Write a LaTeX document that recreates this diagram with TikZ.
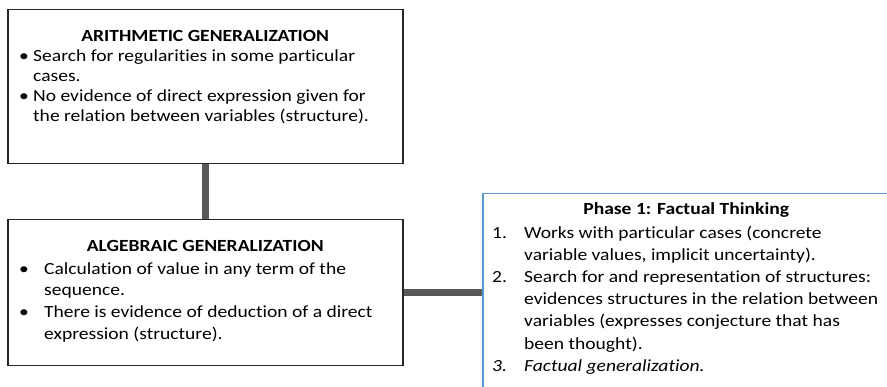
\documentclass[tikz,border=0pt]{standalone}
\usepackage{fontspec}
\setmainfont{Carlito}[Ligatures=NoCommon, FakeStretch=1.15]
\definecolor{boxgray}{HTML}{262626}
\definecolor{conngray}{HTML}{595959}
\definecolor{phaseblue}{HTML}{5B9BD5}
\newcommand{\blt}[1]{\makebox[#1][l]{•}}
\begin{document}
\begin{tikzpicture}[x=1pt,y=-1pt,
  box/.style={draw=boxgray, line width=1.5pt, inner sep=0pt, anchor=north west},
  phasebox/.style={draw=phaseblue, line width=1.5pt, inner sep=0pt, anchor=north west},
  conn/.style={draw=conngray, line width=7pt},
  txt/.style={inner sep=0pt, anchor=base west, text=black}]
\useasboundingbox[fill=white] (0,0) rectangle (887,387);
\begin{scope}
\clip (0,0) rectangle (887,387);
\node[box, minimum width=395pt, minimum height=154pt] (arith) at (7,9) {};
\node[box, minimum width=395pt, minimum height=146pt] (alg) at (7,219) {};
\node[phasebox, minimum width=420pt, minimum height=210pt] (phase) at (482,193) {};
\end{scope}
\draw[conn] (arith.south) -- (alg.north);
\draw[conn] (alg.east) -- (alg.east -| phase.west);
\node[txt] (arithtxt) at (19,42) {\begin{minipage}[t]{372pt}\fontsize{17}{20}\selectfont\raggedright\lineskiplimit=-\maxdimen
\makebox[\linewidth]{\bfseries ARITHMETIC GENERALIZATION}\\
\blt{14pt}Search for regularities in some particular\\
\hspace*{14pt}cases.\\
\blt{14pt}No evidence of direct expression given for\\
\hspace*{14pt}the relation between variables (structure).
\end{minipage}};
\node[txt] (algtxt) at (19,252) {\begin{minipage}[t]{372pt}\fontsize{17}{21.7}\selectfont\raggedright\lineskiplimit=-\maxdimen
\makebox[\linewidth]{\bfseries ALGEBRAIC GENERALIZATION}\\[0.6pt]
\blt{25pt}Calculation of value in any term of the\\
\hspace*{25pt}sequence.\\
\blt{25pt}There is evidence of deduction of a direct\\
\hspace*{25pt}expression (structure).
\end{minipage}};
\node[txt] (phasetxt) at (492,215) {\begin{minipage}[t]{388pt}\fontsize{17}{22.2}\selectfont\raggedright\lineskiplimit=-\maxdimen
\makebox[\linewidth]{\bfseries Phase 1: Factual Thinking}\\[0.9pt]
\makebox[32pt][l]{1.}Works with particular cases (concrete\\
\hspace*{32pt}variable values, implicit uncertainty).\\
\makebox[32pt][l]{2.}Search for and representation of structures:\\
\hspace*{32pt}evidences structures in the relation between\\
\hspace*{32pt}variables (expresses conjecture that has\\
\hspace*{32pt}been thought).\\
{\itshape\makebox[32pt][l]{3.}Factual generalization.}
\end{minipage}};
\end{tikzpicture}
\end{document}
